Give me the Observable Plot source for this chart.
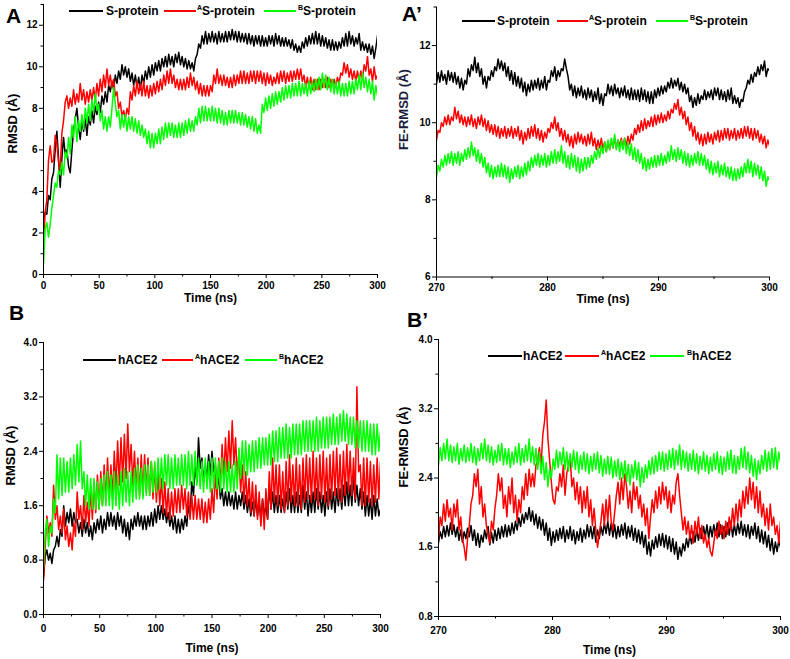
<!DOCTYPE html>
<html><head><meta charset="utf-8">
<script src="https://cdn.jsdelivr.net/npm/d3@7"></script>
<script src="https://cdn.jsdelivr.net/npm/@observablehq/plot@0.6"></script>
<style>
body{margin:0;background:#fff;font-family:"Liberation Sans",Arial,sans-serif;}
#wrap{position:relative;width:790px;height:659px;overflow:hidden;background:#fff}
.panel{position:absolute}
.lab{position:absolute;font-weight:bold;font-size:21px;line-height:1;color:#000}
.leg{position:absolute;left:0;top:0;font-weight:bold;font-size:12px;line-height:1;white-space:nowrap;color:#000}
.ln{position:absolute;height:2px}
.tx{position:absolute}
.tx sup{font-size:7px;vertical-align:5px;line-height:0}
</style></head>
<body><div id="wrap"></div>
<script>
// ---- sample times (ns) ----
const timesFull = d3.range(201).map(i => i * 1.5);         // 0..300 ns
const timesZoom = d3.range(201).map(i => 270 + i * 0.15);  // 270..300 ns

// ---- Panel A: RMSD S-protein (Å), 0..300 ns ----
const rmsdS = [
 2.6,3.0,2.9,3.8,3.6,4.6,4.9,6.0,6.9,5.6,
 4.2,5.6,6.6,5.8,6.0,5.2,4.9,6.0,6.9,7.5,
 8.0,7.1,6.5,7.4,6.9,7.5,6.7,7.6,7.2,7.9,
 7.3,8.1,7.7,8.3,7.8,8.6,8.2,8.8,8.3,9.1,
 8.8,9.3,8.9,9.6,9.2,9.8,9.4,10.1,9.6,10.0,
 9.5,9.9,9.3,9.7,9.1,9.6,9.0,9.5,8.9,9.6,
 9.2,9.8,9.4,10.0,9.5,10.1,9.6,10.2,9.8,10.3,
 9.8,10.4,10.0,10.5,10.0,10.6,10.1,10.5,10.0,10.6,
 10.2,10.7,10.1,10.5,10.0,10.4,9.9,10.3,9.9,10.2,
 9.8,10.4,10.6,11.1,10.9,11.5,11.1,11.7,11.1,11.6,
 11.2,11.7,11.2,11.6,11.1,11.7,11.2,11.6,11.2,11.7,
 11.2,11.7,11.3,11.8,11.3,11.7,11.2,11.7,11.2,11.6,
 11.2,11.6,11.1,11.6,11.1,11.5,11.0,11.5,11.1,11.5,
 11.0,11.5,11.0,11.4,11.0,11.5,11.1,11.5,11.0,11.6,
 11.1,11.5,11.0,11.4,11.0,11.4,11.0,11.3,10.9,11.3,
 10.8,11.1,10.7,11.0,10.7,11.2,10.9,11.4,11.0,11.5,
 11.1,11.6,11.1,11.7,11.1,11.6,11.0,11.5,11.0,11.4,
 10.9,11.3,10.8,11.3,10.8,11.2,10.8,11.2,10.9,11.4,
 11.0,11.6,11.0,11.7,11.1,11.5,11.0,11.4,11.1,11.6,
 10.8,11.2,10.8,11.1,10.7,11.1,10.6,11.0,10.4,10.9,
 11.5];
const rmsdSA = [
 1.5,3.0,3.6,5.5,6.2,5.4,5.5,6.7,6.3,5.4,
 5.0,6.8,7.4,8.3,8.6,8.0,8.5,8.1,8.9,8.2,
 8.7,8.3,9.2,8.4,8.9,8.2,8.8,8.3,8.9,8.4,
 9.0,8.4,9.2,8.6,9.4,8.8,9.6,9.0,9.9,9.1,
 9.6,9.0,9.4,8.6,8.8,8.0,8.3,7.6,7.9,7.5,
 8.0,7.7,8.8,8.4,9.1,8.6,9.3,8.7,9.2,8.6,
 9.3,8.6,9.1,8.5,9.1,8.6,9.2,8.7,9.3,8.8,
 9.4,8.9,9.6,9.1,9.8,9.2,9.9,9.2,9.6,9.0,
 9.4,8.9,9.4,8.9,9.4,8.9,9.5,9.0,9.7,9.1,
 9.5,8.9,9.3,8.7,9.2,8.6,9.1,8.6,9.1,8.6,
 9.1,8.8,9.6,9.2,9.9,9.2,9.6,9.1,9.6,9.1,
 9.5,9.0,9.5,9.0,9.6,9.1,9.6,9.2,9.8,9.2,
 9.8,9.2,9.7,9.2,9.8,9.3,9.8,9.2,9.8,9.3,
 9.8,9.2,9.7,9.1,9.7,9.2,9.6,9.1,9.5,9.2,
 9.7,9.2,9.8,9.3,9.8,9.2,9.7,9.3,9.8,9.3,
 9.8,9.4,9.9,9.4,9.9,9.3,9.6,9.0,9.5,9.0,
 9.5,8.9,9.4,8.9,9.4,8.9,9.4,9.0,9.4,9.0,
 9.5,9.0,9.4,9.1,9.4,9.0,9.5,9.2,9.7,9.6,
 10.2,9.7,10.1,9.5,9.9,9.4,9.8,9.3,9.8,9.3,
 9.8,9.4,10.1,9.8,10.5,9.6,9.9,9.3,10.0,9.4,
 9.6];
const rmsdSB = [
 0.5,2.2,2.5,1.8,2.4,3.2,3.8,4.4,4.2,5.0,
 4.8,5.4,4.8,5.9,5.6,6.6,5.8,7.2,6.6,7.6,
 6.4,7.4,6.9,7.7,7.0,8.0,7.3,8.2,7.4,8.4,
 7.8,8.7,7.9,8.2,7.4,7.9,7.0,7.6,6.9,7.6,
 7.1,8.0,9.0,8.2,7.6,7.9,7.0,7.7,7.1,7.7,
 6.9,7.6,7.0,7.6,6.9,7.5,6.8,7.4,6.7,7.2,
 6.6,7.0,6.3,6.9,6.1,6.8,6.1,6.8,6.3,7.0,
 6.3,7.1,6.5,7.3,6.6,7.3,6.7,7.3,6.6,7.2,
 6.6,7.3,6.6,7.3,6.7,7.4,6.8,7.5,6.9,7.4,
 6.9,7.6,7.2,8.0,7.3,8.1,7.4,8.1,7.4,8.0,
 7.4,8.1,7.4,8.0,7.3,8.0,7.3,7.9,7.2,7.8,
 7.2,7.9,7.3,7.9,7.3,7.9,7.3,7.8,7.2,7.8,
 7.2,7.7,7.1,7.6,7.0,7.6,6.9,7.5,6.8,7.2,
 6.8,8.2,7.8,8.5,7.9,8.6,8.0,8.7,8.1,8.8,
 8.2,8.8,8.3,9.0,8.4,9.1,8.5,9.1,8.5,9.2,
 8.6,9.2,8.6,9.3,8.6,9.2,8.7,9.2,8.6,9.3,
 8.7,9.3,8.8,9.4,8.9,9.5,8.9,9.7,9.0,9.6,
 8.9,9.5,8.8,9.4,8.7,9.3,8.7,9.3,8.6,9.2,
 8.6,9.2,8.6,9.3,8.7,9.3,8.7,9.4,8.9,9.6,
 8.9,9.7,9.0,9.5,8.8,9.4,8.7,9.3,8.4,9.1,
 8.6];

// ---- Panel A': FE-RMSD S-protein (Å), 270..300 ns ----
const feS = [
 11.0,11.3,11.05,11.35,11.1,11.25,11.0,11.35,11.1,11.3,
 11.05,11.3,11.0,11.2,10.9,11.15,10.85,11.1,11.0,11.4,
 11.2,11.5,11.35,11.7,11.3,11.55,11.2,11.4,11.0,11.2,
 10.9,11.2,11.1,11.35,11.2,11.45,11.35,11.65,11.4,11.6,
 11.35,11.55,11.2,11.45,11.1,11.35,11.0,11.3,10.95,11.2,
 10.9,11.15,10.8,11.05,10.7,11.0,10.8,11.1,10.85,11.1,
 10.9,11.15,10.85,11.1,10.9,11.2,10.85,11.1,11.05,11.35,
 11.2,11.45,11.1,11.35,11.2,11.4,11.35,11.65,11.4,11.2,
 10.85,11.0,10.7,10.95,10.65,10.9,10.7,10.95,10.65,10.85,
 10.6,10.9,10.65,10.85,10.55,10.8,10.6,10.9,10.5,10.75,
 10.45,10.75,10.7,11.0,10.75,10.95,10.7,11.0,10.75,10.9,
 10.65,10.9,10.7,10.95,10.65,10.85,10.6,10.9,10.6,10.85,
 10.6,10.85,10.55,10.9,10.6,10.85,10.55,10.8,10.5,10.8,
 10.5,10.85,10.65,10.9,10.7,10.95,10.75,10.95,10.8,11.05,
 10.9,11.15,10.9,11.1,10.95,11.15,10.85,11.05,10.8,11.0,
 10.75,10.9,10.55,10.7,10.4,10.65,10.45,10.75,10.5,10.7,
 10.6,10.85,10.6,10.8,10.65,10.85,10.6,10.9,10.7,10.9,
 10.6,10.85,10.6,10.8,10.55,10.85,10.6,10.9,10.5,10.7,
 10.5,10.65,10.4,10.6,10.55,10.8,10.9,11.1,11.0,11.25,
 11.05,11.3,11.2,11.45,11.25,11.5,11.35,11.6,11.2,11.4,
 11.35];
const feSA = [
 9.55,9.8,9.75,10.0,9.9,10.15,9.95,10.2,9.95,10.15,
 10.05,10.4,10.1,10.3,10.0,10.2,9.95,10.15,9.9,10.15,
 9.95,10.2,9.9,10.1,9.85,10.15,9.95,10.2,9.9,10.1,
 9.8,10.05,9.75,9.95,9.7,9.95,9.65,9.9,9.6,9.85,
 9.65,9.9,9.6,9.85,9.65,9.9,9.6,9.85,9.65,9.9,
 9.55,9.8,9.45,9.75,9.55,9.85,9.6,9.9,9.65,9.95,
 9.6,9.85,9.55,9.8,9.5,9.75,9.6,9.85,9.75,10.0,
 9.85,10.15,9.8,10.0,9.65,9.85,9.55,9.8,9.5,9.7,
 9.4,9.65,9.35,9.7,9.45,9.75,9.5,9.7,9.45,9.65,
 9.4,9.7,9.45,9.75,9.4,9.6,9.3,9.55,9.35,9.6,
 9.3,9.5,9.25,9.5,9.3,9.55,9.35,9.6,9.35,9.55,
 9.4,9.6,9.35,9.6,9.4,9.65,9.45,9.7,9.55,9.85,
 9.7,9.95,9.75,10.05,9.8,10.1,9.85,10.05,9.9,10.15,
 9.9,10.2,9.95,10.2,10.0,10.25,10.0,10.2,10.05,10.3,
 10.1,10.35,10.25,10.5,10.35,10.6,10.2,10.4,10.1,10.3,
 9.95,10.15,9.8,10.0,9.65,9.9,9.55,9.75,9.45,9.7,
 9.4,9.7,9.45,9.75,9.5,9.7,9.45,9.75,9.55,9.8,
 9.5,9.8,9.55,9.85,9.6,9.85,9.55,9.8,9.6,9.85,
 9.55,9.8,9.6,9.85,9.6,9.9,9.65,9.9,9.6,9.85,
 9.55,9.85,9.6,9.8,9.5,9.7,9.45,9.65,9.35,9.55,
 9.4];
const feSB = [
 8.6,8.9,8.75,9.05,8.85,9.15,8.9,9.2,8.95,9.25,
 8.9,9.2,8.95,9.25,8.9,9.2,9.0,9.3,9.05,9.35,
 9.1,9.5,9.15,9.35,9.0,9.3,8.95,9.2,8.85,9.1,
 8.7,8.95,8.6,8.9,8.55,8.85,8.6,8.9,8.6,8.95,
 8.6,8.9,8.55,8.85,8.45,8.8,8.55,8.85,8.6,8.9,
 8.55,8.85,8.6,8.95,8.65,9.0,8.75,9.1,8.85,9.15,
 8.9,9.2,8.85,9.15,8.9,9.2,8.85,9.15,8.9,9.25,
 8.95,9.3,8.95,9.25,9.0,9.4,8.95,9.25,8.85,9.15,
 8.8,9.2,8.85,9.15,8.75,9.1,8.7,9.05,8.75,9.1,
 8.8,9.1,8.85,9.15,8.95,9.25,9.05,9.35,9.1,9.4,
 9.2,9.5,9.25,9.55,9.3,9.6,9.35,9.7,9.3,9.55,
 9.25,9.55,9.3,9.6,9.2,9.5,9.15,9.45,9.05,9.35,
 9.0,9.3,8.95,9.2,8.8,9.1,8.75,9.05,8.8,9.1,
 8.85,9.15,8.85,9.15,8.9,9.2,8.9,9.15,8.95,9.25,
 9.0,9.4,9.05,9.3,9.0,9.35,9.05,9.3,8.95,9.25,
 8.9,9.2,8.85,9.15,8.9,9.2,8.95,9.25,8.9,9.2,
 8.9,9.15,8.8,9.05,8.7,9.0,8.65,8.95,8.7,9.0,
 8.6,8.9,8.65,8.95,8.6,8.85,8.55,8.85,8.5,8.8,
 8.5,8.8,8.55,8.85,8.6,8.95,8.7,9.05,8.7,9.0,
 8.6,8.95,8.65,8.9,8.55,8.85,8.5,8.75,8.35,8.6,
 8.5];

// ---- Panel B: RMSD hACE2 (Å), 0..300 ns ----
const rmsdH = [
 0.55,0.85,0.95,0.8,0.9,0.75,0.95,1.0,1.15,1.0,
 1.25,1.15,1.6,1.3,1.5,1.35,1.55,1.3,1.5,1.35,
 1.4,1.2,1.35,1.15,1.4,1.2,1.35,1.15,1.3,1.1,
 1.35,1.2,1.4,1.25,1.45,1.2,1.4,1.25,1.5,1.3,
 1.5,1.3,1.45,1.25,1.5,1.3,1.45,1.2,1.4,1.15,
 1.35,1.1,1.4,1.25,1.45,1.3,1.5,1.3,1.45,1.25,
 1.45,1.25,1.45,1.3,1.5,1.3,1.55,1.35,1.6,1.4,
 1.6,1.4,1.55,1.35,1.5,1.3,1.45,1.25,1.45,1.2,
 1.4,1.2,1.4,1.25,1.45,1.3,1.6,1.45,1.95,1.75,
 2.2,1.95,2.6,2.15,2.3,1.95,2.2,2.0,2.35,2.05,
 2.4,2.1,2.2,1.9,2.0,1.7,1.85,1.6,1.8,1.6,
 1.8,1.6,1.75,1.55,1.8,1.55,1.75,1.6,1.8,1.55,
 1.75,1.5,1.7,1.45,1.65,1.45,1.7,1.45,1.65,1.4,
 1.7,1.45,1.6,1.4,1.9,1.55,1.8,1.5,1.75,1.5,
 1.75,1.5,1.7,1.5,1.8,1.55,1.85,1.5,1.75,1.5,
 1.8,1.5,1.75,1.5,1.9,1.55,1.8,1.45,1.75,1.5,
 1.8,1.5,1.85,1.55,1.8,1.5,1.75,1.45,1.8,1.55,
 1.85,1.55,1.8,1.5,1.85,1.6,1.85,1.55,1.9,1.6,
 1.95,1.6,1.9,1.6,2.05,1.65,1.9,1.6,1.85,1.55,
 1.8,1.45,1.75,1.45,1.7,1.4,1.75,1.45,1.7,1.45,
 1.55];
const rmsdHA = [
 0.5,1.0,1.45,1.2,1.35,1.15,1.9,1.4,1.6,1.25,
 1.45,1.2,1.55,1.1,1.3,1.0,1.2,0.95,1.35,1.15,
 1.8,1.4,1.6,1.25,1.75,1.35,1.65,1.3,1.85,1.4,
 1.95,1.5,2.05,1.55,2.1,1.6,2.2,1.65,2.3,1.7,
 2.2,1.7,2.4,1.85,2.55,1.9,2.6,1.95,2.65,2.0,
 2.8,2.1,2.5,1.9,2.4,1.8,2.3,1.75,2.35,1.75,
 2.35,1.8,2.3,1.75,2.25,1.7,2.2,1.65,2.1,1.6,
 2.0,1.5,1.95,1.45,1.85,1.4,1.8,1.45,1.85,1.5,
 1.85,1.5,1.9,1.55,1.85,1.45,1.8,1.4,1.75,1.4,
 1.75,1.4,1.7,1.4,1.7,1.35,1.65,1.35,1.7,1.4,
 1.85,1.5,2.1,1.7,2.3,1.9,2.5,2.0,2.6,2.1,
 2.7,2.15,2.85,2.2,2.6,2.0,2.4,1.8,2.2,1.65,
 2.1,1.6,2.0,1.5,1.95,1.45,1.9,1.4,1.8,1.3,
 1.7,1.25,1.85,1.4,2.1,1.55,2.3,1.65,2.2,1.6,
 2.2,1.55,2.1,1.5,2.25,1.6,2.35,1.65,2.2,1.6,
 2.3,1.6,2.2,1.55,2.3,1.65,2.35,1.7,2.3,1.65,
 2.4,1.7,2.3,1.6,2.35,1.7,2.4,1.65,2.3,1.6,
 2.35,1.7,2.4,1.75,2.45,1.7,2.35,1.65,2.4,1.75,
 2.5,1.8,2.4,1.75,2.3,1.7,3.35,2.1,2.2,1.6,
 2.3,1.6,2.3,1.65,2.25,1.6,2.2,1.65,2.3,1.7,
 2.25];
const rmsdHB = [
 0.7,1.2,1.4,1.0,1.3,1.2,1.7,1.5,2.35,1.7,
 2.3,1.75,2.3,1.8,2.25,1.8,2.3,1.85,2.35,1.9,
 2.5,1.95,2.55,1.85,2.1,1.6,2.05,1.55,2.0,1.55,
 2.0,1.55,1.95,1.55,2.0,1.6,2.05,1.6,2.1,1.6,
 2.05,1.55,2.1,1.6,2.05,1.55,2.1,1.6,2.15,1.65,
 2.1,1.6,2.1,1.65,2.15,1.7,2.2,1.7,2.15,1.7,
 2.2,1.75,2.2,1.75,2.25,1.8,2.25,1.8,2.3,1.85,
 2.3,1.85,2.35,1.9,2.35,1.85,2.3,1.85,2.35,1.9,
 2.3,1.9,2.35,1.9,2.35,1.85,2.4,1.9,2.35,1.9,
 2.4,1.9,2.3,1.85,2.25,1.8,2.3,1.85,2.25,1.8,
 2.3,1.85,2.3,1.85,2.25,1.8,2.3,1.85,2.25,1.8,
 2.25,1.8,2.2,1.8,2.25,1.85,2.45,2.0,2.55,2.05,
 2.55,2.05,2.5,2.1,2.55,2.1,2.55,2.15,2.6,2.15,
 2.6,2.2,2.6,2.2,2.65,2.2,2.7,2.25,2.7,2.25,
 2.75,2.3,2.75,2.3,2.8,2.3,2.75,2.3,2.8,2.35,
 2.8,2.35,2.8,2.35,2.85,2.4,2.85,2.4,2.85,2.4,
 2.85,2.4,2.9,2.4,2.85,2.45,2.9,2.45,2.9,2.45,
 2.9,2.5,2.95,2.5,2.9,2.5,2.95,2.55,3.0,2.55,
 2.95,2.5,2.9,2.5,2.9,2.45,2.85,2.45,2.85,2.4,
 2.85,2.4,2.85,2.4,2.8,2.35,2.8,2.35,2.8,2.4,
 2.7];

// ---- Panel B': FE-RMSD hACE2 (Å), 270..300 ns ----
const feH = [
 1.65,1.78,1.7,1.84,1.72,1.85,1.73,1.88,1.75,1.86,
 1.72,1.83,1.68,1.8,1.66,1.78,1.7,1.82,1.72,1.85,
 1.68,1.8,1.62,1.76,1.6,1.74,1.66,1.8,1.7,1.84,
 1.63,1.77,1.65,1.8,1.68,1.82,1.7,1.84,1.72,1.86,
 1.72,1.85,1.74,1.88,1.76,1.9,1.8,1.94,1.84,1.98,
 1.88,2.0,1.92,2.06,1.9,2.02,1.86,1.98,1.82,1.95,
 1.8,1.92,1.74,1.88,1.68,1.82,1.62,1.78,1.66,1.8,
 1.68,1.82,1.7,1.84,1.66,1.8,1.7,1.84,1.68,1.8,
 1.64,1.78,1.68,1.82,1.66,1.8,1.7,1.86,1.72,1.84,
 1.7,1.84,1.66,1.8,1.7,1.84,1.74,1.88,1.76,1.9,
 1.74,1.88,1.72,1.86,1.7,1.84,1.72,1.86,1.74,1.88,
 1.7,1.84,1.72,1.85,1.68,1.82,1.66,1.8,1.64,1.78,
 1.6,1.74,1.52,1.66,1.5,1.68,1.58,1.72,1.6,1.75,
 1.62,1.76,1.6,1.74,1.58,1.72,1.55,1.7,1.52,1.66,
 1.46,1.6,1.5,1.64,1.56,1.7,1.6,1.74,1.64,1.78,
 1.66,1.8,1.68,1.82,1.7,1.84,1.72,1.86,1.7,1.84,
 1.72,1.86,1.74,1.88,1.72,1.86,1.7,1.84,1.72,1.88,
 1.74,1.9,1.72,1.86,1.74,1.88,1.76,1.9,1.74,1.86,
 1.72,1.86,1.7,1.84,1.74,1.88,1.7,1.84,1.66,1.8,
 1.64,1.78,1.6,1.74,1.56,1.7,1.52,1.66,1.55,1.68,
 1.6];
const feHA = [
 1.7,1.95,1.85,2.1,1.9,2.15,1.95,2.05,1.8,2.1,
 1.95,2.15,1.8,1.95,1.7,1.6,1.45,1.7,1.85,2.1,
 2.2,2.45,2.3,2.5,2.1,2.3,1.95,2.1,1.85,1.75,
 1.65,1.9,1.8,2.05,2.2,2.45,2.25,2.4,2.05,2.2,
 1.95,2.3,2.1,2.4,2.0,2.2,1.9,2.15,2.0,2.3,
 2.15,2.45,2.2,2.5,2.3,2.45,2.3,2.55,2.6,2.75,
 2.55,2.9,3.05,3.3,2.85,2.6,2.35,2.15,2.1,2.3,
 2.25,2.45,2.3,2.55,2.2,2.45,2.55,2.65,2.3,2.4,
 2.15,2.35,2.1,2.3,2.0,2.25,2.05,2.3,1.95,2.15,
 1.85,2.05,1.8,1.6,1.75,1.9,2.1,1.85,2.15,1.9,
 2.2,1.9,1.8,2.0,2.2,2.35,2.1,2.4,2.15,2.45,
 2.3,2.05,2.25,2.0,2.35,2.15,2.3,2.05,2.2,1.95,
 2.1,1.85,2.05,1.7,1.95,2.15,2.0,2.25,2.05,2.3,
 2.1,2.35,2.15,2.3,2.05,2.25,2.0,2.2,2.1,2.35,
 2.45,2.2,2.0,1.8,1.95,1.75,1.9,1.7,1.85,1.65,
 1.9,1.75,1.95,1.7,1.85,1.65,1.75,1.6,1.7,1.55,
 1.5,1.65,1.8,1.7,1.9,1.75,1.85,1.7,1.9,1.75,
 1.95,1.8,2.05,1.85,2.1,1.9,2.15,1.95,2.25,2.05,
 2.3,2.1,2.4,2.15,2.35,2.05,2.3,2.0,2.25,1.95,
 2.1,1.85,2.05,1.8,2.1,1.85,1.95,1.75,1.85,1.65,
 1.9];
const feHB = [
 2.55,2.75,2.6,2.8,2.62,2.85,2.6,2.78,2.58,2.76,
 2.6,2.8,2.56,2.74,2.6,2.78,2.58,2.75,2.6,2.8,
 2.58,2.76,2.55,2.74,2.6,2.8,2.62,2.85,2.6,2.78,
 2.58,2.76,2.55,2.72,2.58,2.78,2.6,2.8,2.55,2.74,
 2.56,2.74,2.52,2.7,2.56,2.76,2.58,2.8,2.55,2.74,
 2.58,2.78,2.6,2.85,2.58,2.76,2.55,2.74,2.5,2.7,
 2.45,2.65,2.38,2.58,2.3,2.5,2.4,2.62,2.5,2.72,
 2.52,2.7,2.55,2.75,2.5,2.7,2.48,2.68,2.52,2.72,
 2.5,2.7,2.46,2.66,2.5,2.7,2.48,2.68,2.45,2.65,
 2.48,2.68,2.5,2.7,2.46,2.66,2.42,2.62,2.45,2.65,
 2.44,2.64,2.4,2.6,2.42,2.62,2.38,2.58,2.4,2.6,
 2.36,2.56,2.32,2.55,2.4,2.6,2.38,2.58,2.3,2.52,
 2.35,2.55,2.4,2.6,2.44,2.64,2.45,2.66,2.48,2.7,
 2.5,2.7,2.48,2.68,2.5,2.72,2.52,2.74,2.5,2.72,
 2.55,2.78,2.5,2.72,2.52,2.7,2.48,2.68,2.5,2.72,
 2.48,2.68,2.45,2.65,2.5,2.7,2.48,2.66,2.45,2.64,
 2.48,2.68,2.5,2.7,2.46,2.65,2.44,2.64,2.48,2.7,
 2.5,2.72,2.46,2.66,2.45,2.65,2.5,2.74,2.52,2.76,
 2.5,2.7,2.46,2.66,2.42,2.62,2.38,2.6,2.45,2.66,
 2.5,2.72,2.48,2.7,2.5,2.74,2.52,2.75,2.5,2.7,
 2.58];

// ---- labels / ticks ----
const colors = ["#000000", "#ff0000", "#00ff00"];
const sNames = ["S-protein", "S-protein", "S-protein"];
const hNames = ["hACE2", "hACE2", "hACE2"];
const supers = ["", "A", "B"];
const ticksFullX = [0, 50, 100, 150, 200, 250, 300];
const minorFullX = [25, 75, 125, 175, 225, 275];
const ticksZoomX = [270, 280, 290, 300];
const minorZoomX = [275, 285, 295];
const ticksA = [0, 2, 4, 6, 8, 10, 12];
const minorA = [1, 3, 5, 7, 9, 11, 13];
const ticksAp = [6, 8, 10, 12];
const minorAp = [7, 9, 11, 13];
const ticksB = [0, 0.8, 1.6, 2.4, 3.2, 4.0];
const minorB = [0.4, 1.2, 2.0, 2.8, 3.6];
const ticksBp = [0.8, 1.6, 2.4, 3.2, 4.0];
const minorBp = [1.2, 2.0, 2.8, 3.6];

const wrap = document.getElementById("wrap");
const FONT = "'Liberation Sans', Arial, Helvetica, sans-serif";

function panel(o) {
  const marks = [];
  o.series.forEach((vals, k) => {
    const rows = vals.map((v, i) => ({t: o.times[i], v}));
    marks.push(Plot.line(rows, {x: "t", y: "v", stroke: colors[k], strokeWidth: 1.5, clip: true}));
  });
  marks.push(
    Plot.ruleX([o.xDomain[0]], {stroke: "#000", strokeWidth: 1}),
    Plot.ruleY([o.yDomain[0]], {stroke: "#000", strokeWidth: 1}),
    Plot.axisX({ticks: o.xTicks, tickSize: 4, tickPadding: o.xPad, label: null, tickFormat: d3.format("d"), fontWeight: "bold"}),
    Plot.axisX({ticks: o.xMinor, tickSize: 2.5, text: null, label: null, tickFormat: () => ""}),
    Plot.axisY({ticks: o.yTicks, tickSize: 4, tickPadding: 2, label: null, tickFormat: o.yFmt, fontWeight: "bold"}),
    Plot.axisY({ticks: o.yMinor, tickSize: 2.5, text: null, label: null, tickFormat: () => ""}),
    Plot.text(["Time (ns)"], {text: d => d, frameAnchor: "bottom", dy: o.xlabelDy, fontSize: 12, fontWeight: "bold", lineAnchor: "middle"}),
    Plot.text([o.ylabel], {text: d => d, frameAnchor: "left", dx: o.ylabelDx, dy: o.ylabelDy, rotate: -90, fontSize: 13, fontWeight: "bold", lineAnchor: "middle", fill: o.ylabelColor || "#000"})
  );
  const chart = Plot.plot({
    width: o.width, height: o.height,
    marginLeft: o.m[0], marginRight: o.m[1], marginTop: o.m[2], marginBottom: o.m[3],
    x: {domain: o.xDomain},
    y: {domain: o.yDomain},
    style: {fontFamily: FONT, fontSize: "10px", background: "transparent", overflow: "visible", color: "#000"},
    marks
  });
  const div = document.createElement("div");
  div.className = "panel";
  div.style.left = o.left + "px";
  div.style.top = o.top + "px";
  div.appendChild(chart);
  wrap.appendChild(div);
}

panel({left: 0, top: 0, width: 395, height: 320, m: [43, 18, 4, 46],
  xDomain: [0, 300], yDomain: [0, 13], xTicks: ticksFullX, xMinor: minorFullX, xPad: 3,
  yTicks: ticksA, yMinor: minorA, yFmt: d3.format("d"), times: timesFull,
  series: [rmsdS, rmsdSA, rmsdSB], ylabel: "RMSD (Å)", ylabelDx: -31, ylabelDy: 14, xlabelDy: 24});

panel({left: 395, top: 0, width: 395, height: 320, m: [41, 21, 6.5, 43.5],
  xDomain: [270, 300], yDomain: [6, 13], xTicks: ticksZoomX, xMinor: minorZoomX, xPad: 3,
  yTicks: ticksAp, yMinor: minorAp, yFmt: d3.format("d"), times: timesZoom,
  series: [feS, feSA, feSB], ylabel: "FE-RMSD (Å)", ylabelDx: -33, ylabelDy: 8, xlabelDy: 22, ylabelColor: "#1c1c3a"});

panel({left: 0, top: 320, width: 395, height: 339, m: [43, 15, 22, 45],
  xDomain: [0, 300], yDomain: [0, 4], xTicks: ticksFullX, xMinor: minorFullX, xPad: 6,
  yTicks: ticksB, yMinor: minorB, yFmt: d3.format(".1f"), times: timesFull,
  series: [rmsdH, rmsdHA, rmsdHB], ylabel: "RMSD (Å)", ylabelDx: -33, ylabelDy: 7, xlabelDy: 34});

panel({left: 395, top: 320, width: 395, height: 339, m: [43, 10, 19, 43],
  xDomain: [270, 300], yDomain: [0.8, 4], xTicks: ticksZoomX, xMinor: minorZoomX, xPad: 6,
  yTicks: ticksBp, yMinor: minorBp, yFmt: d3.format(".1f"), times: timesZoom,
  series: [feH, feHA, feHB], ylabel: "FE-RMSD (Å)", ylabelDx: -35, ylabelDy: 9.5, xlabelDy: 34});

// ---- panel letters ----
[["A", 6, 5], ["A’", 402, 3], ["B", 9, 302], ["B’", 407, 309]].forEach(([t, x, y]) => {
  const d = document.createElement("div");
  d.className = "lab"; d.textContent = t;
  d.style.left = x + "px"; d.style.top = y + "px";
  wrap.appendChild(d);
});

// ---- legends: [lineStart, lineEnd, textLeft] per item, y center ----
function legend(names, y, items) {
  const box = document.createElement("div");
  box.className = "leg";
  items.forEach(([x1, x2, tx], k) => {
    const ln = document.createElement("div");
    ln.className = "ln";
    ln.style.left = x1 + "px"; ln.style.width = (x2 - x1) + "px";
    ln.style.top = (y - 1) + "px"; ln.style.background = colors[k];
    box.appendChild(ln);
    const t = document.createElement("div");
    t.className = "tx";
    t.style.left = tx + "px"; t.style.top = (y - 6) + "px";
    t.innerHTML = (supers[k] ? "<sup>" + supers[k] + "</sup>" : "") + names[k];
    box.appendChild(t);
  });
  wrap.appendChild(box);
}
legend(sNames, 10.5, [[69, 103, 106], [164, 196, 197], [264, 296, 298]]);
legend(sNames, 21, [[462, 495, 497], [557, 588, 589], [656, 688, 690]]);
legend(hNames, 360, [[83, 116, 118], [162, 193, 195], [245, 277, 279]]);
legend(hNames, 356, [[488, 522, 523], [565, 599, 601], [650, 684, 687]]);
</script>
</body></html>
